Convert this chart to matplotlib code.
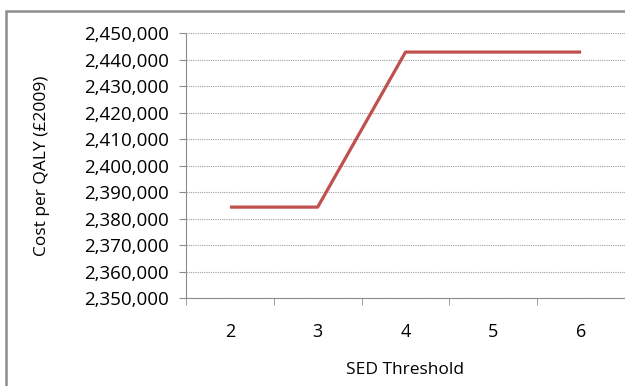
import matplotlib
matplotlib.use("Agg")
from matplotlib import pyplot as plt
from matplotlib.patches import Rectangle
from matplotlib.ticker import FuncFormatter, MultipleLocator

thresholds = ['2', '3', '4', '5', '6']
cost_per_qaly = [2384300, 2384300, 2442800, 2442800, 2442800]

plt.rcParams['font.family'] = ['Open Sans', 'DejaVu Sans']

fig = plt.figure(figsize=(6.25, 3.86), dpi=100)
W, H = 625, 386

# chart area frame, runs off the right and bottom edges
fig.patches.append(Rectangle((6 / W, -0.1), 1.2, (H - 11) / H + 0.1,
                             transform=fig.transFigure, fill=False,
                             edgecolor='#8c8c8c', linewidth=1.8))

ax = fig.add_axes([186 / W, (H - 298) / H, 1 - 186 / W, (298 - 33) / H])
x = range(len(thresholds))
ax.plot(x, cost_per_qaly, color='#c0504d', linewidth=2.3, solid_capstyle='butt')

ax.set_xlim(-0.5, len(thresholds) - 0.5)
ax.set_ylim(2350000, 2450000)
ax.yaxis.set_major_locator(MultipleLocator(10000))
ax.yaxis.set_major_formatter(FuncFormatter(lambda v, p: f'{v:,.0f}'))
ax.set_xticks(list(x))
ax.set_xticklabels(thresholds)
ax.set_xticks([i - 0.5 for i in range(len(thresholds) + 1)], minor=True)
ax.tick_params(axis='x', which='major', length=0, pad=18, labelsize=13)
ax.tick_params(axis='x', which='minor', length=5, color='#8c8c8c')
ax.tick_params(axis='y', length=5, color='#8c8c8c', labelsize=13.5, pad=7.5)

ax.grid(axis='y', linestyle=(0, (1, 1)), color='#a0a0a0', linewidth=0.8)
ax.set_axisbelow(True)
for s in ['top', 'right']:
    ax.spines[s].set_visible(False)
for s in ['left', 'bottom']:
    ax.spines[s].set_color('#8c8c8c')

ax.set_xlabel('SED Threshold', fontsize=12.5, labelpad=15)
ax.set_ylabel('Cost per QALY (£2009)', fontsize=12.5, labelpad=24)

fig.savefig('out.png', dpi=100)
